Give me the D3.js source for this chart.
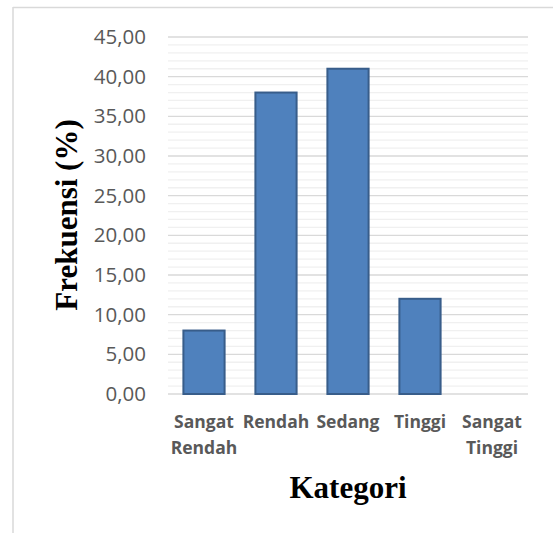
<!DOCTYPE html>
<html><head><meta charset="utf-8">
<script src="https://cdn.jsdelivr.net/npm/d3@7"></script>
<style>body{margin:0;background:#fff}svg{display:block}</style>
</head><body>
<script>
const categories = [["Sangat","Rendah"],["Rendah"],["Sedang"],["Tinggi"],["Sangat","Tinggi"]];
const values = [8, 38, 41, 12, 0];
const yTicks = [0,5,10,15,20,25,30,35,40,45];

const W = 553, H = 533;
const svg = d3.select("body").append("svg").attr("width", W).attr("height", H);

// frame
svg.append("line").attr("x1",13).attr("x2",W).attr("y1",7.5).attr("y2",7.5).attr("stroke","#d9d9d9").attr("stroke-width",1.5);
svg.append("line").attr("x1",13).attr("x2",13).attr("y1",7).attr("y2",H).attr("stroke","#d9d9d9").attr("stroke-width",1.5);

const x0 = 168, x1 = 528, yTop = 37, yBot = 394;
const keys = categories.map((c,i)=>i);
const x = d3.scaleBand().domain(keys).range([x0,x1]).paddingInner(0.4).paddingOuter(0.2);
const y = d3.scaleLinear().domain([0,45]).range([yBot,yTop]);

// minor gridlines
const minor = d3.range(0,46,1).filter(v=>v%5!==0);
svg.append("g").selectAll("line").data(minor).join("line")
  .attr("x1",x0).attr("x2",x1).attr("y1",d=>y(d)).attr("y2",d=>y(d))
  .attr("stroke","#f0f0f0").attr("stroke-width",1.3);
// major gridlines
svg.append("g").selectAll("line").data(yTicks).join("line")
  .attr("x1",x0).attr("x2",x1).attr("y1",d=>y(d)).attr("y2",d=>y(d))
  .attr("stroke","#d9d9d9").attr("stroke-width",1.3);

// y axis labels
const yAxis = d3.axisLeft(y).tickValues(yTicks).tickSize(0).tickPadding(0)
  .tickFormat(d=>d3.format(".2f")(d).replace(".",","));
const ga = svg.append("g").attr("transform",`translate(146,0)`).call(yAxis);
ga.select(".domain").remove();
ga.selectAll("text").attr("fill","#595959").attr("font-family","Open Sans, sans-serif").attr("font-size",20.5);

// bars
svg.append("g").selectAll("rect").data(values).join("rect")
  .attr("x",(d,i)=>x(i)+1).attr("width",x.bandwidth()-2)
  .attr("y",d=>y(d)).attr("height",d=>y(0)-y(d))
  .attr("fill","#4F81BD").attr("stroke","#385D8A").attr("stroke-width",2)
  .attr("display",d=>d>0?null:"none");

// x labels
const gx = svg.append("g");
categories.forEach((lines,i)=>{
  const t = gx.append("text").attr("x",x(i)+x.bandwidth()/2).attr("y",428)
    .attr("text-anchor","middle").attr("fill","#595959")
    .attr("font-family","Open Sans, sans-serif").attr("font-weight","bold").attr("font-size",17.5);
  lines.forEach((l,j)=>{
    t.append("tspan").attr("x",x(i)+x.bandwidth()/2).attr("dy",j===0?0:26).text(l);
  });
});

// axis titles
svg.append("text").attr("x",348).attr("y",498).attr("text-anchor","middle")
  .attr("font-family","Liberation Serif, Times New Roman, serif").attr("font-weight","bold")
  .attr("font-size",31).attr("fill","#000").text("Kategori");
svg.append("text").attr("transform","translate(77,215) rotate(-90)").attr("text-anchor","middle")
  .attr("font-family","Liberation Serif, Times New Roman, serif").attr("font-weight","bold")
  .attr("font-size",31).attr("fill","#000").text("Frekuensi (%)");
</script>
</body></html>
